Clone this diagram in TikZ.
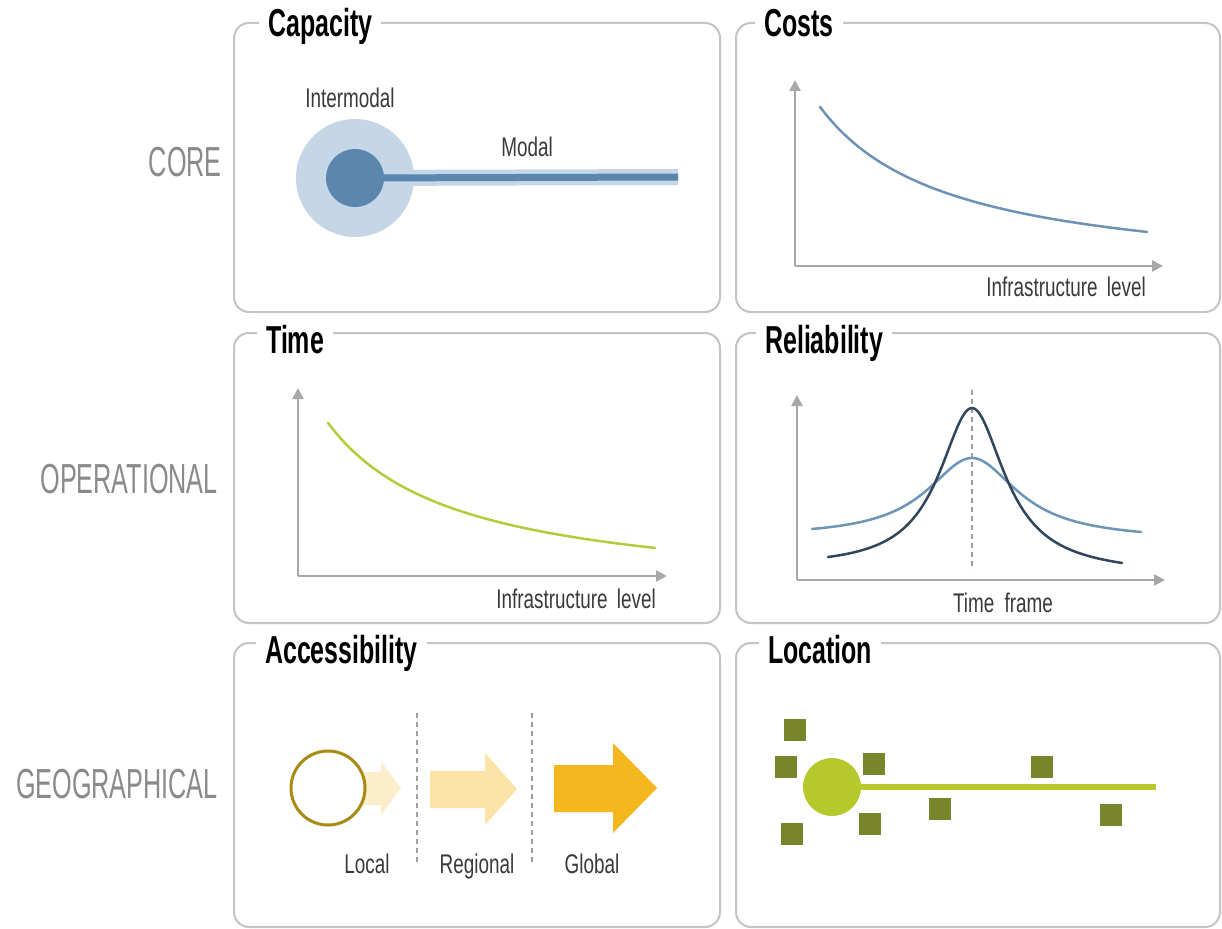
\documentclass[tikz,border=0pt]{standalone}
\usepackage{fontspec}
\setmainfont{Liberation Sans}
\newfontfamily\ttlfont[FakeStretch=0.64]{Liberation Sans}
\newfontfamily\rowfont[FakeStretch=0.6]{Liberation Sans}
\newfontfamily\labfont[FakeStretch=0.7]{Liberation Sans}
\usetikzlibrary{arrows.meta}
\definecolor{panelgray}{HTML}{C4C4C4}
\definecolor{axisgray}{HTML}{A8A8A8}
\definecolor{rowgray}{HTML}{8A8A8A}
\definecolor{labgray}{HTML}{3A3A3A}
\definecolor{capLight}{HTML}{C5D6E6}
\definecolor{capDark}{HTML}{5B86AE}
\definecolor{costBlue}{HTML}{6E92B5}
\definecolor{timeGreen}{HTML}{B4CC3C}
\definecolor{relDark}{HTML}{2F465C}
\definecolor{relLight}{HTML}{6D95B8}
\definecolor{dashGray}{HTML}{9E9E9E}
\definecolor{ringGold}{HTML}{A98A12}
\definecolor{arrA}{HTML}{FCEDCB}
\definecolor{arrB}{HTML}{FCE3A8}
\definecolor{arrC}{HTML}{F4B81E}
\definecolor{locGreen}{HTML}{B6C82C}
\definecolor{sqOlive}{HTML}{79852A}
\begin{document}
\begin{tikzpicture}[x=1pt,y=-1pt,
  panel/.style={draw=panelgray, line width=2pt, rounded corners=15pt},
  ttl/.style={anchor=base west, fill=white, inner xsep=9pt, inner ysep=3pt, text=black,
    font=\ttlfont\bfseries\fontsize{39}{40}\selectfont},
  rowlab/.style={anchor=base east, inner sep=0pt, text=rowgray,
    font=\rowfont\fontsize{42}{44}\selectfont},
  lab/.style={inner sep=0pt, text=labgray, font=\labfont\fontsize{27}{28}\selectfont},
  axis/.style={draw=axisgray, line width=2.5pt, -{Triangle[length=11pt,width=11pt]}},
  curve/.style={line width=2.5pt, line cap=round},
  vdash/.style={draw=dashGray, line width=1.6pt, dash pattern=on 5pt off 4pt},
  sq/.style={rectangle, fill=sqOlive, minimum size=22pt, inner sep=0pt},
  dot/.style={circle, inner sep=0pt}
]
\useasboundingbox (0,0) rectangle (1222,928);
\fill[white] (0,0) rectangle (1222,928);

% panels
\draw[panel] (234,23) rectangle (720,312);
\draw[panel] (736,23) rectangle (1220,312);
\draw[panel] (234,333) rectangle (720,623);
\draw[panel] (736,333) rectangle (1220,623);
\draw[panel] (234,643) rectangle (720,927);
\draw[panel] (736,643) rectangle (1220,927);

% titles
\node[ttl] (tcap) at (259,37) {Capacity};
\node[ttl] (tcost) at (755,37) {Costs};
\node[ttl] (ttime) at (257,353) {Time};
\node[ttl] (trel) at (756,353) {Reliability};
\node[ttl] (tacc) at (256,663) {Accessibility};
\node[ttl] (tloc) at (759,663) {Location};

% row labels
\node[rowlab] (rcore) at (222,177) {CORE};
\node[rowlab] (rop) at (218,493) {OPERATIONAL};
\node[rowlab] (rgeo) at (218,798) {GEOGRAPHICAL};

% ---- Capacity
\node[dot, fill=capLight, minimum size=118pt] (capO) at (355,178) {};
\coordinate (capEnd) at (678,177);
\draw[capLight, line width=16pt] (capO.center) -- (capEnd);
\draw[capDark, line width=7pt] (capO.center) -- (capEnd);
\node[dot, fill=capDark, minimum size=58pt] (capI) at (355,178) {};
\node[lab, anchor=base] (lInter) at (350,108) {Intermodal};
\node[lab, anchor=base] (lModal) at (527,157) {Modal};

% ---- Costs
\coordinate (co) at (795,266);
\coordinate (coY) at (795,80);
\coordinate (coX) at (1163,266);
\draw[axis] (co) -- (coY);
\draw[axis] (co) -- (coX);
\draw[curve, costBlue] plot[domain=820:1147, samples=60] (\x, {281.6-100*(227.1/(\x-690))});
\node[lab, anchor=base east] (lcost) at (1146,296) {Infrastructure\hspace{4pt} level};

% ---- Time
\coordinate (to) at (298,576);
\coordinate (toY) at (298,388);
\coordinate (toX) at (667,576);
\draw[axis] (to) -- (toY);
\draw[axis] (to) -- (toX);
\draw[curve, timeGreen] plot[domain=328:655, samples=60] (\x, {597.6-100*(227.1/(\x-198))});
\node[lab, anchor=base east] (ltime) at (656,608) {Infrastructure\hspace{4pt} level};

% ---- Reliability
\coordinate (ro) at (797,580);
\coordinate (roY) at (797,395);
\coordinate (roX) at (1165,580);
\draw[axis] (ro) -- (roY);
\draw[axis] (ro) -- (roX);
\coordinate (rdTop) at (972,390);
\coordinate (rdBot) at (972,570);
\draw[vdash] (rdTop) -- (rdBot);
\draw[curve, relLight] plot[domain=812:1141, samples=120] (\x, {537.5+(\x-812)*2.2/329-80.6/(1+((\x-972)/55)^2)});
\draw[curve, relDark] plot[domain=828:1122, samples=140] (\x, {568.7+(\x-828)*5.1/294-163.2/(1+((\x-972)/40)^2)});
\node[lab, anchor=base] (lrel) at (1003,612) {Time\hspace{5pt} frame};

% ---- Accessibility
\fill[arrA] (352,772) -- (381,772) -- (381,762) -- (401,788) -- (381,815) -- (381,805) -- (352,805) -- cycle;
\node[dot, draw=ringGold, line width=3pt, fill=white, minimum size=74pt] (acirc) at (328,788) {};
\coordinate (ad1t) at (417,713);
\coordinate (ad1b) at (417,862);
\coordinate (ad2t) at (532,713);
\coordinate (ad2b) at (532,862);
\draw[vdash] (ad1t) -- (ad1b);
\draw[vdash] (ad2t) -- (ad2b);
\fill[arrB] (430,771) -- (485,771) -- (485,753) -- (517,789) -- (485,825) -- (485,808) -- (430,808) -- cycle;
\fill[arrC] (554,765) -- (613,765) -- (613,743) -- (657,788) -- (613,833) -- (613,812) -- (554,812) -- cycle;
\node[lab, anchor=base] (lloc) at (367,873) {Local};
\node[lab, anchor=base] (lreg) at (477,873) {Regional};
\node[lab, anchor=base] (lglob) at (592,873) {Global};

% ---- Location
\node[dot, minimum size=58pt] (lcirc) at (832,787) {};
\coordinate (lend) at (1156,787);
\draw[locGreen, line width=6pt] (lcirc.center) -- (lend);
\node[dot, fill=locGreen, minimum size=58pt] (lcircF) at (832,787) {};
\node[sq] (s1) at (795,730) {};
\node[sq] (s2) at (786,767) {};
\node[sq] (s3) at (874,764) {};
\node[sq] (s4) at (792,834) {};
\node[sq] (s5) at (870,824) {};
\node[sq] (s6) at (940,809) {};
\node[sq] (s7) at (1042,767) {};
\node[sq] (s8) at (1111,815) {};
\end{tikzpicture}
\end{document}
